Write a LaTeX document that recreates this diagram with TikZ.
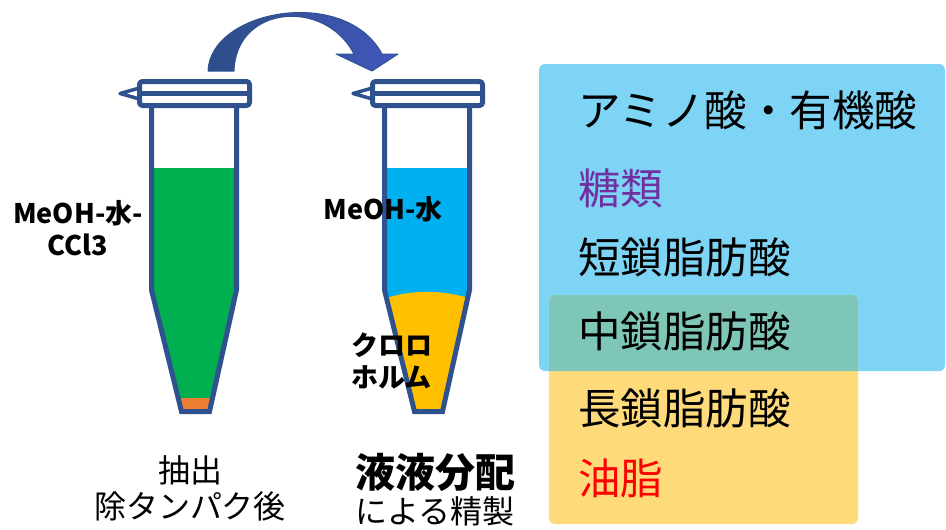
\documentclass[tikz,border=0pt]{standalone}
\usepackage{fontspec}
\newfontfamily\jp{Noto Sans CJK JP}

\definecolor{tubeline}{HTML}{2F528F}
\definecolor{extract}{HTML}{00B050}
\definecolor{pellet}{HTML}{ED7D31}
\definecolor{aqua}{HTML}{00B0F0}
\definecolor{chloro}{HTML}{FFC000}
\definecolor{polarbox}{HTML}{7DD4F5}
\definecolor{lipidbox}{HTML}{FEDA7A}
\definecolor{bothbox}{HTML}{7EC6B8}
\definecolor{sugar}{HTML}{7030A0}

\tikzset{
  wall/.style={draw=tubeline, line width=5pt},
  solvent/.style={inner sep=0pt, font=\jp\bfseries\fontsize{27}{32}\selectfont},
  compound/.style={anchor=west, inner sep=0pt, font=\jp\fontsize{42.5}{50}\selectfont},
  caption/.style={inner sep=0pt, align=center, font=\jp\fontsize{32}{36}\selectfont},
}

\begin{document}
\begin{tikzpicture}[x=1pt, y=-1pt, line join=round, line cap=round]
  \useasboundingbox (0,0) rectangle (946,530);

  % polar / nonpolar fractions
  \fill[polarbox, rounded corners=6pt] (539,64) rectangle (945,371);
  \fill[lipidbox, rounded corners=6pt] (549,295) rectangle (858,524);
  \begin{scope}
    \clip[rounded corners=6pt] (539,64) rectangle (945,371);
    \fill[bothbox, rounded corners=6pt] (549,295) rectangle (858,524);
  \end{scope}

  % tube contents
  \begin{scope}
    \clip (151.5,106) -- (151.5,290) -- (181.5,411.5) -- (209.5,411.5) -- (236.5,290) -- (236.5,106) -- cycle;
    \fill[extract] (140,168) rectangle (250,420);
    \fill[pellet] (140,398) rectangle (250,420);
  \end{scope}
  \begin{scope}[xshift=233]
    \clip (151.5,106) -- (151.5,290) -- (181.5,411.5) -- (209.5,411.5) -- (236.5,290) -- (236.5,106) -- cycle;
    \fill[aqua] (140,168) rectangle (250,420);
    \fill[chloro] (140,303) .. controls (175,288) and (212,288) .. (250,303) -- (250,420) -- (140,420) -- cycle;
  \end{scope}

  % tubes with caps
  \foreach \dx in {0,233} {
    \begin{scope}[xshift=\dx]
      \draw[wall, line join=miter] (151.5,106) -- (151.5,290) -- (181.5,411.5) -- (209.5,411.5) -- (236.5,290) -- (236.5,106);
      \draw[wall, rounded corners=3pt] (139.5,81.5) rectangle (249.5,105.5);
      \draw[wall] (139.5,93.5) -- (249.5,93.5);
      \draw[draw=tubeline, line width=3.5pt] (139.5,88) -- (120,93.5) -- (139.5,99);
    \end{scope}
  }

  % transfer arrow
  \shade[left color=tubeline!95!black, right color=tubeline!70!blue!85!white, draw=tubeline, line width=1pt]
    (208,71) .. controls (210,10) and (345,-15) .. (382,54) -- (398,54) -- (372,71) -- (336,54) -- (354,54)
    .. controls (325,-2) and (236,5) .. (234,71) -- cycle;

  % labels
  \node[solvent, align=center] (mix) at (78,228) {MeOH-水-\\CCl3};
  \node[solvent] (upper) at (383,209) {MeOH-水};
  \node[solvent, align=left] (lower) at (392,361) {クロロ\\ホルム};

  \node[compound] (amino) at (578,110) {アミノ酸・有機酸};
  \node[compound, text=sugar] (sugars) at (578,188) {糖類};
  \node[compound] (scfa) at (578,257) {短鎖脂肪酸};
  \node[compound] (mcfa) at (578,331) {中鎖脂肪酸};
  \node[compound] (lcfa) at (578,408) {長鎖脂肪酸};
  \node[compound, text=red] (oils) at (578,478) {油脂};

  \node[caption] (step1) at (190,488) {抽出\\除タンパク後};
  \node[caption] (step2) at (435,490) {{\bfseries\fontsize{40}{40}\selectfont 液液分配}\\による精製};
\end{tikzpicture}
\end{document}
